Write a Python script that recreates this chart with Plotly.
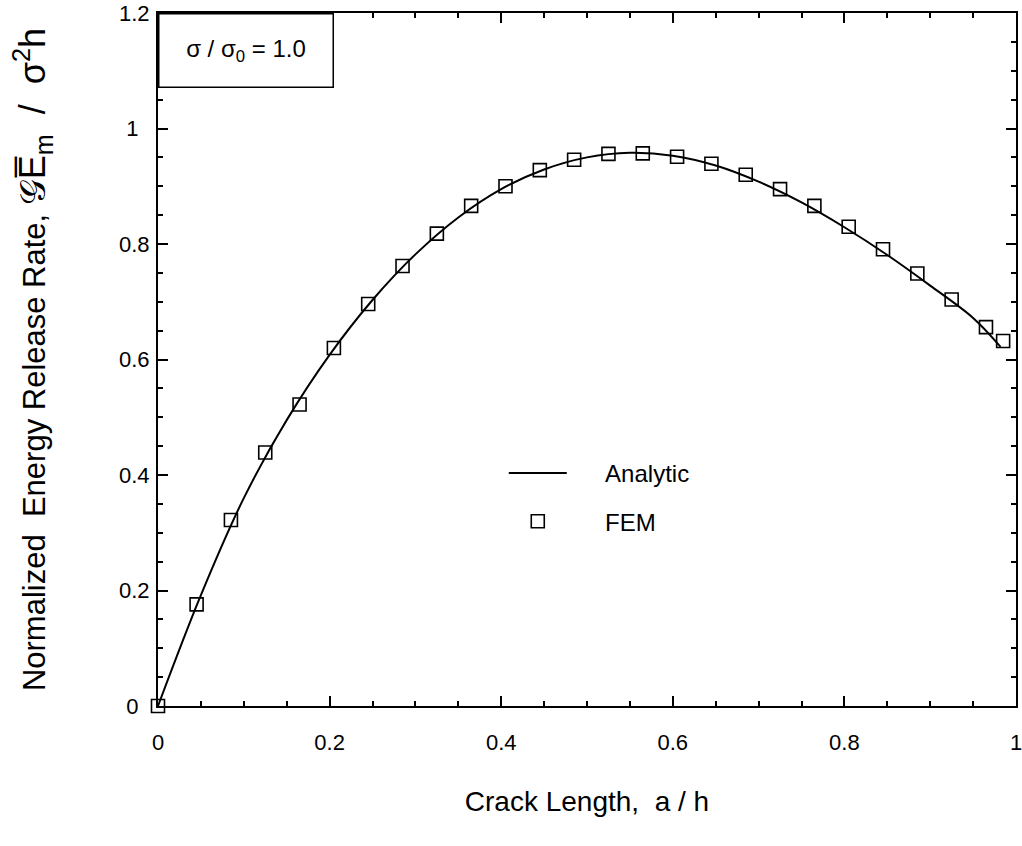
import plotly.graph_objects as go

# Analytic curve
analytic_x = [0, 0.05, 0.1, 0.15, 0.2, 0.25, 0.3, 0.35, 0.4, 0.45, 0.5,
              0.55, 0.6, 0.65, 0.7, 0.75, 0.8, 0.85, 0.9, 0.95, 0.982]
analytic_y = [0, 0.192, 0.36, 0.495, 0.608, 0.703, 0.782, 0.846, 0.895, 0.929, 0.950,
              0.958, 0.953, 0.936, 0.908, 0.872, 0.829, 0.781, 0.728, 0.672, 0.622]

# FEM results
fem_x = [0, 0.045, 0.085, 0.125, 0.165, 0.205, 0.245, 0.285, 0.325, 0.365, 0.405,
         0.445, 0.485, 0.525, 0.565, 0.605, 0.645, 0.685, 0.725, 0.765, 0.805,
         0.845, 0.885, 0.925, 0.965, 0.985]
fem_y = [0, 0.176, 0.322, 0.439, 0.522, 0.620, 0.696, 0.762, 0.818, 0.866, 0.900,
         0.928, 0.946, 0.956, 0.957, 0.951, 0.939, 0.920, 0.895, 0.866, 0.830,
         0.791, 0.749, 0.704, 0.656, 0.632]

x_ticks = [0, 0.2, 0.4, 0.6, 0.8, 1]
x_ticklabels = ["0", "0.2", "0.4", "0.6", "0.8", "1"]
y_ticks = [0, 0.2, 0.4, 0.6, 0.8, 1, 1.2]
# short labels padded so they sit centred like the original
y_ticklabels = ["0\u2002", "0.2", "0.4", "0.6", "0.8", "1\u2002", "1.2"]

FONT = "Liberation Sans, Arial, Helvetica, sans-serif"
NB = "\u00a0"

fig = go.Figure()

fig.add_trace(go.Scatter(
    x=analytic_x, y=analytic_y, mode="lines", name=NB * 5 + "Analytic",
    legendgroup="a",
    line=dict(color="black", width=2, shape="spline"),
))
fig.add_trace(go.Scatter(
    x=fem_x, y=fem_y, mode="markers", name=NB * 5 + "FEM",
    legendgroup="b",
    marker=dict(symbol="square-open", size=13, color="black",
                line=dict(width=1.6, color="black")),
    cliponaxis=False,
))

axis_common = dict(
    showgrid=False, zeroline=False, showline=True, linecolor="black", linewidth=2,
    mirror="ticks", ticks="inside", ticklen=10, tickwidth=2, tickcolor="black",
    minor=dict(dtick=0.05, ticks="inside", ticklen=5, tickwidth=2, tickcolor="black"),
    tickfont=dict(family=FONT, size=22, color="black"),
    ticklabeloverflow="allow",
    automargin=False,
)

fig.update_xaxes(
    range=[0, 1], tickvals=x_ticks, ticktext=x_ticklabels,
    ticklabelstandoff=16,
    title=dict(text="Crack Length,  a / h", font=dict(family=FONT, size=28, color="black"),
               standoff=37),
    **axis_common,
)

y_title = ("Normalized  Energy Release Rate, "
           "<span style='font-size:36px'>𝒢E\u0305<sub>m</sub>" + NB * 2 + "/" + NB * 2
           + "σ<sup>2</sup>h</span>")
fig.update_yaxes(
    range=[0, 1.2], tickvals=y_ticks, ticktext=y_ticklabels,
    ticklabelstandoff=2,
    title=dict(text=y_title, font=dict(family=FONT, size=31, color="black"), standoff=64),
    **axis_common,
)

fig.add_annotation(
    text="σ / σ<sub>0</sub> = 1.0", xref="paper", yref="paper",
    x=0, y=1, xanchor="left", yanchor="top", showarrow=False,
    width=173, height=72, bordercolor="black", borderwidth=1.5, borderpad=0,
    bgcolor="white", font=dict(family=FONT, size=24, color="black"),
)

fig.update_layout(
    width=1022, height=846,
    margin=dict(l=158, r=6, t=13, b=140),
    paper_bgcolor="white", plot_bgcolor="white",
    showlegend=True,
    legend=dict(x=0.403, y=0.368, xanchor="left", yanchor="top",
                bgcolor="rgba(0,0,0,0)", font=dict(family=FONT, size=24, color="black"),
                itemwidth=58, tracegroupgap=14),
)

# drop the browser's default body margin so the figure fills the window
fig.write_html("out.html", config={"displayModeBar": False},
               post_script="document.body.style.margin='0';")
